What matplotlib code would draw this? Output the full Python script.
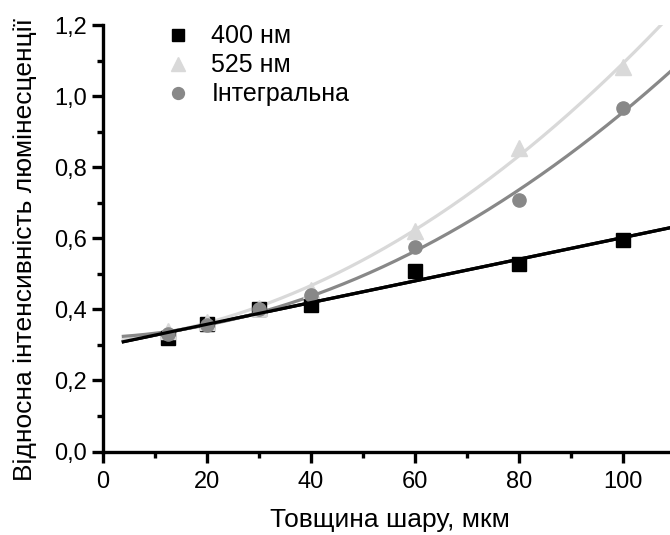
import numpy as np
import matplotlib
matplotlib.use("Agg")
import matplotlib.pyplot as plt
from matplotlib.ticker import MultipleLocator, FuncFormatter

plt.rcParams['font.family'] = ['Liberation Sans', 'DejaVu Sans']

thickness = [12.5, 20, 30, 40, 60, 80, 100]
i400 = [0.319, 0.360, 0.400, 0.411, 0.509, 0.529, 0.596]
i525 = [0.340, 0.365, 0.405, 0.455, 0.620, 0.853, 1.083]
integral = [0.330, 0.355, 0.400, 0.440, 0.576, 0.708, 0.968]

labels = ['400 нм', '525 нм', 'Інтегральна']
colors = ['black', '#d9d9d9', '#888888']
markers = ['s', '^', 'o']
degrees = [1, 2, 2]

fig = plt.figure(figsize=(6.7, 5.35), dpi=100)
ax = fig.add_axes([0.153, 0.156, 0.847, 0.797])

xfit = np.linspace(4, 112, 300)
series = [i400, i525, integral]
for ys, c, d in zip(series, colors, degrees):
    p = np.polyfit(thickness, ys, d)
    ax.plot(xfit, np.polyval(p, xfit), color=c, lw=2.3, zorder=2)
handles = []
for ys, c, m, lab in zip(series, colors, markers, labels):
    ms = 11.5 if m == '^' else 9.5
    h, = ax.plot(thickness, ys, linestyle='none', marker=m, color=c, markersize=ms,
                 label=lab, zorder=3)
    handles.append(h)
p = np.polyfit(thickness, i400, 1)
ax.plot(xfit, np.polyval(p, xfit), color='black', lw=2.3, zorder=4)

ax.set_xlim(0, 109)
ax.set_ylim(0, 1.2)
ax.xaxis.set_major_locator(MultipleLocator(20))
ax.xaxis.set_minor_locator(MultipleLocator(10))
ax.yaxis.set_major_locator(MultipleLocator(0.2))
ax.yaxis.set_minor_locator(MultipleLocator(0.1))
ax.yaxis.set_major_formatter(FuncFormatter(lambda v, pos: f"{v:.1f}".replace('.', ',')))

for s in ['top', 'right']:
    ax.spines[s].set_visible(False)
for s in ['left', 'bottom']:
    ax.spines[s].set_linewidth(2.4)
ax.tick_params(which='major', direction='out', length=8, width=2.4, labelsize=17)
ax.tick_params(which='minor', direction='out', length=4.5, width=2.4)
ax.tick_params(axis='x', which='major', pad=6)
ax.tick_params(axis='y', which='major', pad=3.5)

ax.set_xlabel('Товщина шару, мкм', fontsize=19)
ax.set_ylabel('Відносна інтенсивність люмінесценції', fontsize=19)
ax.xaxis.set_label_coords(0.507, -0.132)
ax.yaxis.set_label_coords(-0.115, 0.474)

leg = ax.legend(handles=handles, loc='upper left', bbox_to_anchor=(0.095, 1.025),
                frameon=False, fontsize=18, handlelength=0.9, handletextpad=0.9,
                labelspacing=0.2, borderaxespad=0, markerscale=0.9)

fig.savefig('out.png', dpi=100)
